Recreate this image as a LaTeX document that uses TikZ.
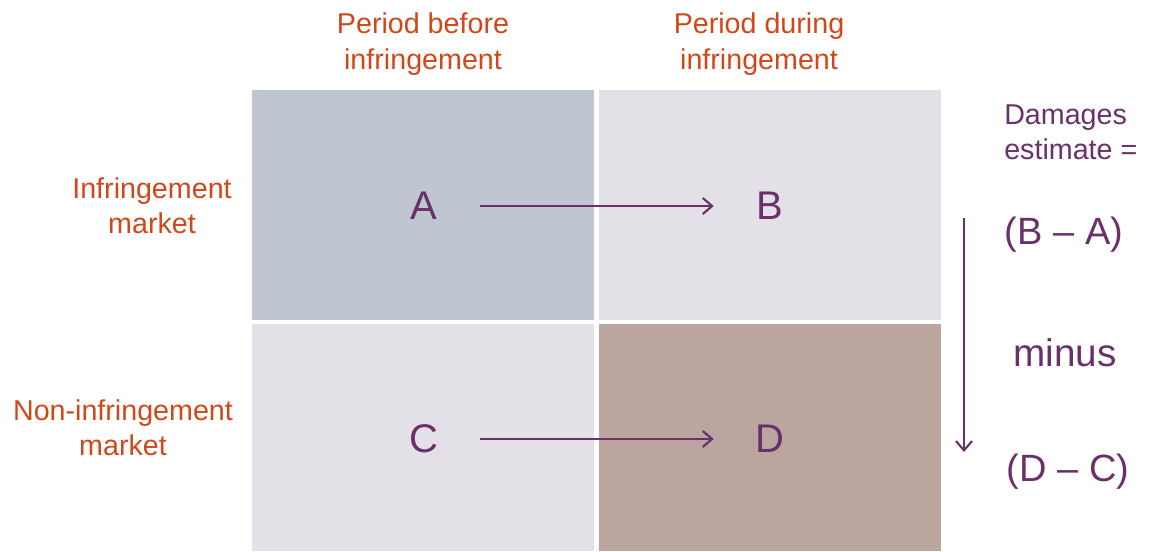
\documentclass[tikz,border=0pt]{standalone}
\usepackage{fontspec}
\setmainfont{Liberation Sans}
\usetikzlibrary{arrows.meta}
\definecolor{orng}{RGB}{208,72,26}
\definecolor{purp}{RGB}{106,48,106}
\definecolor{cellblue}{RGB}{191,197,209}
\definecolor{celllight}{RGB}{228,224,232}
\definecolor{cellbrown}{RGB}{187,165,159}
\tikzset{
  lbl/.style={text=orng, align=center, font=\fontsize{21.5}{26.5}\selectfont, inner sep=0pt},
  rlbl/.style={text=purp, inner sep=0pt},
  letter/.style={text=purp, font=\fontsize{30}{36}\selectfont, minimum width=84pt, inner sep=0pt},
  arr/.style={draw=purp, line width=1.8pt, -{Straight Barb[length=7pt,width=12pt,line width=1.6pt]}},
}
\begin{document}
\begin{tikzpicture}[x=0.75pt,y=-0.75pt]
\useasboundingbox (0,0) rectangle (1151,551);
% cells
\fill[cellblue]  (252,90)  rectangle (594,320);
\fill[celllight] (599,90)  rectangle (941,320);
\fill[celllight] (252,324) rectangle (594,551);
\fill[cellbrown] (599,324) rectangle (941,551);
% headers
\node[lbl] (hbefore) at (423,44) {Period before\\infringement};
\node[lbl] (hduring) at (759,44) {Period during\\infringement};
\node[lbl] (rinf) at (152,206) {Infringement\\market};
\node[lbl] (rnon) at (123,428) {Non-infringement\\market};
% letters
\node[letter] (A) at (424,206) {A};
\node[letter] (B) at (770,206) {B};
\node[letter] (C) at (424,439) {C};
\node[letter] (D) at (770,439) {D};
\draw[arr] (A) -- (B);
\draw[arr] (C) -- (D);
% right column
\node[rlbl, anchor=west, align=left, font=\fontsize{21.5}{26.5}\selectfont] (dam) at (1004,132) {Damages\\estimate =};
\node[rlbl, font=\fontsize{28.5}{34}\selectfont] (ba) at (1064,235) {(B – A)};
\node[rlbl, font=\fontsize{29}{34}\selectfont] (minus) at (1065,353) {minus};
\node[rlbl, font=\fontsize{28.5}{34}\selectfont] (dc) at (1068,472) {(D – C)};
\coordinate (vtop) at (964,218);
\coordinate (vbot) at (964,452);
\draw[arr] (vtop) -- (vbot);
\end{tikzpicture}
\end{document}
